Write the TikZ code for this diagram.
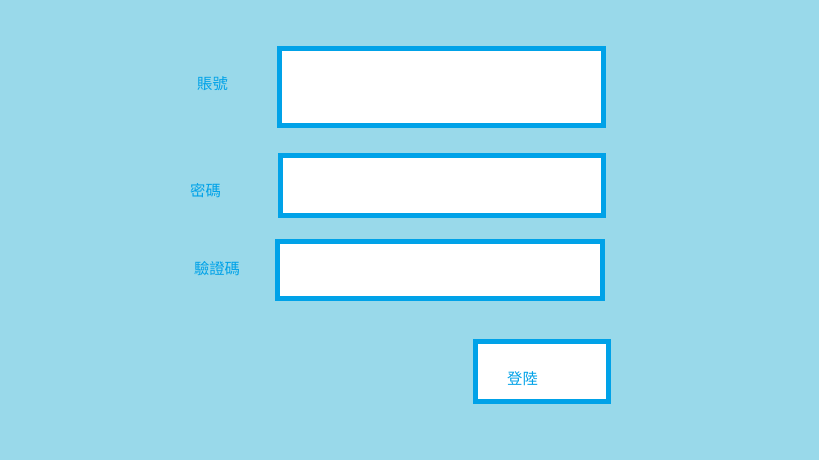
\documentclass[tikz,border=0pt]{standalone}
\usepackage{fontspec}
\newfontfamily\cjk{Noto Sans CJK TC}
\definecolor{bg}{HTML}{99D9EA}
\definecolor{edge}{HTML}{00A2E8}
\begin{document}
\begin{tikzpicture}[x=0.75pt,y=-0.75pt,
  field/.style={draw=edge,fill=white,line width=3.75pt},
  lbl/.style={text=edge,font=\cjk\fontsize{11.5pt}{13pt}\selectfont,inner sep=0pt}]
\fill[bg] (0,0) rectangle (819,460);
\useasboundingbox (0,0) rectangle (819,460);
\draw[field] (279.5,48.5) rectangle (603.5,125.5);
\draw[field] (280.5,155.5) rectangle (603.5,215.5);
\draw[field] (277.5,241.5) rectangle (602.5,298.5);
\draw[field] (475.2,341.5) rectangle (608.5,401.5);
\node[lbl] (acct) at (212.5,84) {賬號};
\node[lbl] (pwd) at (205.5,191) {密碼};
\node[lbl] (code) at (217,269) {驗證碼};
\node[lbl] (login) at (522.5,379) {登陸};
\end{tikzpicture}
\end{document}
